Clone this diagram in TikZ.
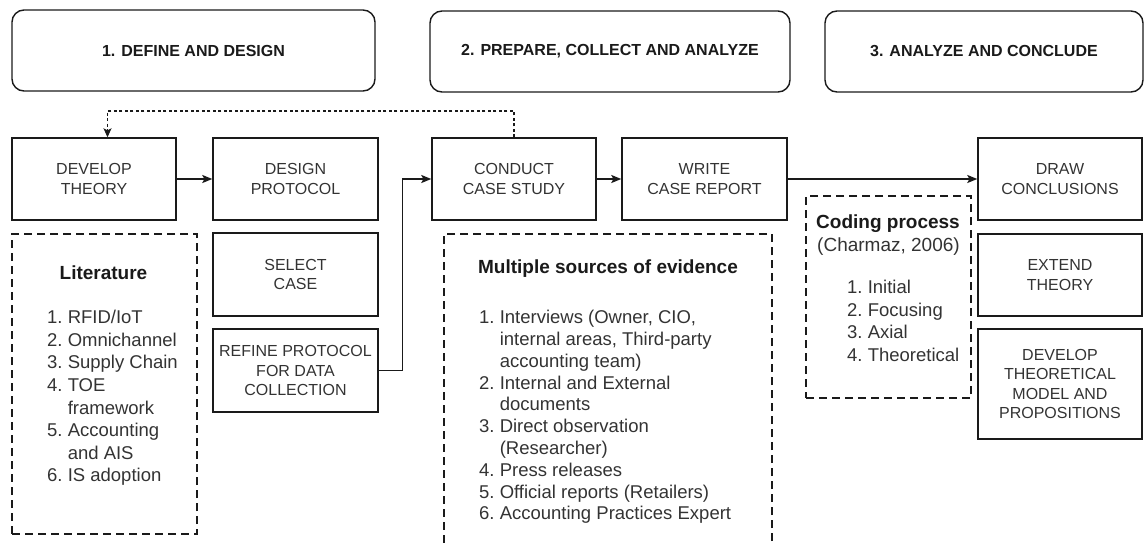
\documentclass[tikz,border=0pt]{standalone}
\usepackage{fontspec}
\setmainfont{Liberation Sans}
\usetikzlibrary{arrows.meta}
\definecolor{ink}{HTML}{1A1A1A}
\definecolor{txt}{HTML}{333333}
\tikzset{
  phase/.style={draw=ink, line width=1.4pt, rounded corners=12pt, inner sep=0pt,
    font=\fontsize{16}{19}\selectfont\bfseries, text=ink},
  stepbox/.style={draw=ink, line width=1.4pt, inner sep=0pt, align=center,
    font=\fontsize{16}{19.3}\selectfont, text=txt},
  notebox/.style={draw=ink, line width=1.4pt, dash pattern=on 8pt off 5pt, inner sep=0pt},
  notetitle/.style={inner sep=0pt, anchor=base, font=\fontsize{19}{22.5}\selectfont\bfseries, text=ink},
  notetext/.style={inner sep=0pt, anchor=base west, text=txt},
  flow/.style={draw=ink, line width=1.4pt, -{Stealth[length=10pt,width=8pt,inset=2pt]}},
  back/.style={draw=ink, line width=1.2pt, dash pattern=on 3pt off 2.5pt,
    -{Stealth[length=9pt,width=8pt,inset=2pt]}}
}
\begin{document}
\begin{tikzpicture}[x=1pt,y=-1pt]
\useasboundingbox (0,0) rectangle (1144,544);
\clip (0,0) rectangle (1144,544);

% phase headers
\node[phase, minimum width=363pt, minimum height=81pt] (h1) at (193.5,50.5) {1. DEFINE AND DESIGN};
\node[phase, minimum width=360pt, minimum height=81pt] (h2) at (610,51.5) {2. PREPARE, COLLECT AND ANALYZE};
\node[phase, minimum width=318pt, minimum height=81pt] (h3) at (984,51.5) {3. ANALYZE AND CONCLUDE};

% main process steps
\node[stepbox, minimum width=164pt, minimum height=82pt] (dev) at (94,179) {DEVELOP\\THEORY};
\node[stepbox, minimum width=165pt, minimum height=82pt] (des) at (295.5,179) {DESIGN\\PROTOCOL};
\node[stepbox, minimum width=164pt, minimum height=82pt] (con) at (514,179) {CONDUCT\\CASE STUDY};
\node[stepbox, minimum width=165pt, minimum height=82pt] (wri) at (704.5,179) {WRITE\\CASE REPORT};
\node[stepbox, minimum width=164pt, minimum height=82pt] (drw) at (1060,179) {DRAW\\CONCLUSIONS};

\node[stepbox, minimum width=165pt, minimum height=83pt] (sel) at (295.5,274.5) {SELECT\\CASE};
\node[stepbox, minimum width=165pt, minimum height=83pt] (ref) at (295.5,370.5) {REFINE PROTOCOL\\FOR DATA\\COLLECTION};
\node[stepbox, minimum width=164pt, minimum height=82pt] (ext) at (1060,275) {EXTEND\\THEORY};
\node[stepbox, minimum width=164pt, minimum height=110pt] (dtm) at (1060,384) {DEVELOP\\THEORETICAL\\MODEL AND\\PROPOSITIONS};

% dashed note boxes
\node[notebox, minimum width=185pt, minimum height=300pt] (lit) at (104.5,384) {};
\node[notebox, minimum width=328pt, minimum height=330pt] (mul) at (608,399) {};
\node[notebox, minimum width=165pt, minimum height=202pt] (cod) at (888.5,297) {};

% literature note
\node[notetitle] (litT) at (103.5,279.8) {Literature};
\node[notetext, font=\fontsize{18.5}{22.6}\selectfont] (litL) at (47,323.6) {%
\begin{tabular}[t]{@{}l@{\ }l@{}}
1. & RFID/IoT\\
2. & Omnichannel\\
3. & Supply Chain\\
4. & TOE\\
   & framework\\
5. & Accounting\\
   & and AIS\\
6. & IS adoption
\end{tabular}};

% evidence note
\node[notetitle] (mulT) at (608,273.8) {Multiple sources of evidence};
\node[notetext, font=\fontsize{18.5}{21.8}\selectfont] (mulL) at (479,323.6) {%
\begin{tabular}[t]{@{}l@{\ }l@{}}
1. & Interviews (Owner, CIO,\\
   & internal areas, Third-party\\
   & accounting team)\\
2. & Internal and External\\
   & documents\\
3. & Direct observation\\
   & (Researcher)\\
4. & Press releases\\
5. & Official reports (Retailers)\\
6. & Accounting Practices Expert
\end{tabular}};

% coding note
\node[notetitle] (codT) at (888,228.8) {Coding process};
\node[notetitle, font=\fontsize{19}{22.5}\selectfont, text=txt] (codS) at (888.5,251.8) {(Charmaz, 2006)};
\node[notetext, font=\fontsize{18.5}{22.6}\selectfont] (codL) at (847,293.6) {%
\begin{tabular}[t]{@{}l@{\ }l@{}}
1. & Initial\\
2. & Focusing\\
3. & Axial\\
4. & Theoretical
\end{tabular}};

% connectors
\coordinate (fb) at (107.5,111);
\coordinate (rj) at (402.5,370.5);
\draw[flow] (dev) -- (des);
\draw[flow] (con) -- (wri);
\draw[flow] (wri) -- (drw);
\draw[flow] (ref.east) -- (rj) |- (con.west);
\draw[back] (con.north) |- (fb) -- (fb |- dev.north);
\end{tikzpicture}
\end{document}
